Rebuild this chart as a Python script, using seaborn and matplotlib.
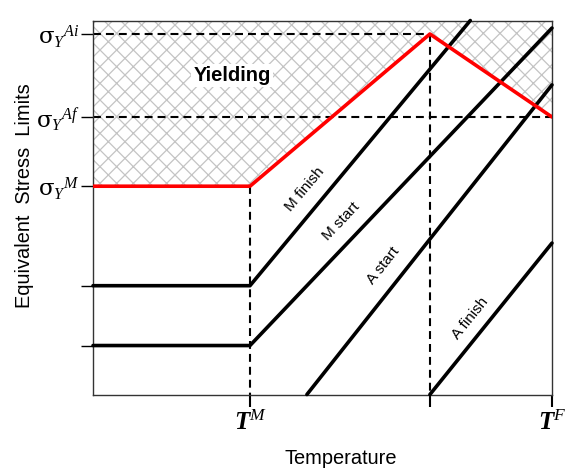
import numpy as np
import pandas as pd
import matplotlib
matplotlib.use("Agg")
import matplotlib.pyplot as plt
import seaborn as sns

# ---- data (axis units: x 0..10, y 0..10) ----
x_TM, x_mid, x_TF = 3.42, 7.34, 10.0
y_Ai, y_Af, y_M, y_low1, y_low2 = 9.64, 7.42, 5.57, 2.91, 1.31

red_x = [0.0, x_TM, x_mid, x_TF]
red_y = [y_M, y_M, y_Ai, y_Af]

mfinish_x = [0.0, x_TM, 8.22]
mfinish_y = [y_low1, y_low1, 10.0]
mstart_x = [0.0, x_TM, x_TF]
mstart_y = [y_low2, y_low2, 9.80]
astart_x = [4.66, x_TF]
astart_y = [0.0, 8.28]
afinish_x = [x_mid, x_TF]
afinish_y = [0.0, 4.05]

ytick_vals = [y_Ai, y_Af, y_M, y_low1, y_low2]
ytick_labels = [r"$\mathrm{\sigma}_{Y}{}^{Ai}$", r"$\mathrm{\sigma}_{Y}{}^{Af}$",
                r"$\mathrm{\sigma}_{Y}{}^{M}$", "", ""]
xtick_vals = [x_TM, x_mid, x_TF]
xtick_labels = [r"$\mathbf{T}^{M}$", "", r"$\mathbf{T}^{F}$"]

line_labels = ["M finish", "M start", "A start", "A finish"]
label_pos = [(4.62, 5.49, 50), (5.40, 4.64, 46.4), (6.32, 3.44, 51.6), (8.21, 2.05, 51.2)]

# ---- style ----
sns.set_theme(style="white")
plt.rcParams["font.family"] = ["Liberation Sans", "DejaVu Sans"]
plt.rcParams["mathtext.fontset"] = "custom"
plt.rcParams["mathtext.rm"] = "DejaVu Serif"
plt.rcParams["mathtext.it"] = "Liberation Serif:italic"
plt.rcParams["mathtext.bf"] = "Liberation Serif:italic:bold"
plt.rcParams["hatch.linewidth"] = 0.9
plt.rcParams["hatch.color"] = "#c4c4c4"
for k in ["text.color", "axes.labelcolor", "xtick.color", "ytick.color"]:
    plt.rcParams[k] = "black"

fig = plt.figure(figsize=(5.78, 4.69), dpi=100)
ax = fig.add_axes([0.1609, 0.1588, 0.7941, 0.7974])
ax.set_xlim(0, 10)
ax.set_ylim(0, 10)

# hatched yielding region
ax.fill_between(red_x, red_y, 10, facecolor="none", edgecolor="#c4c4c4",
                hatch="xx", linewidth=0, zorder=1)

# dashed guides
dash = (0, (3.8, 2.4))
ax.plot([0, x_mid], [y_Ai, y_Ai], color="black", lw=1.5, ls=dash, zorder=2)
ax.plot([0, x_TF], [y_Af, y_Af], color="black", lw=1.5, ls=dash, zorder=2)
ax.plot([x_TM, x_TM], [y_M, 0], color="black", lw=1.5, ls=dash, zorder=2)
ax.plot([x_mid, x_mid], [y_Ai, 0], color="black", lw=1.5, ls=dash, zorder=2)

# black transformation lines
for xs, ys in [(mfinish_x, mfinish_y), (mstart_x, mstart_y),
               (astart_x, astart_y), (afinish_x, afinish_y)]:
    df = pd.DataFrame({"x": xs, "y": ys})
    sns.lineplot(data=df, x="x", y="y", sort=False, estimator=None,
                 color="black", lw=2.6, ax=ax, zorder=3, clip_on=False)

# red yield limit
df_red = pd.DataFrame({"x": red_x, "y": red_y})
sns.lineplot(data=df_red, x="x", y="y", sort=False, estimator=None,
             color="#ff0000", lw=2.6, ax=ax, zorder=4)

# labels along lines
for txt, (lx, ly, rot) in zip(line_labels, label_pos):
    ax.text(lx, ly, txt, rotation=rot, rotation_mode="anchor", ha="center",
            va="center", fontsize=11, color="black", zorder=5)

ax.text(3.03, 8.54, "Yielding", fontsize=14.5, fontweight="bold", ha="center",
        va="center", zorder=5, color="black",
        bbox=dict(facecolor="white", edgecolor="none", pad=1.5))

# ticks
ax.set_yticks(ytick_vals)
ax.set_yticklabels(ytick_labels, fontsize=16.5)
ax.set_xticks(xtick_vals)
ax.set_xticklabels(xtick_labels, fontsize=18)
ax.tick_params(axis="y", direction="out", length=8.6, width=1.0, color="black",
               pad=1, left=True)
ax.tick_params(axis="x", direction="out", length=8.6, width=1.5, color="black",
               pad=3, bottom=True)

for s in ax.spines.values():
    s.set_color("#333333")
    s.set_linewidth(1.0)
    s.set_visible(True)

ax.set_xlabel("Temperature", fontsize=14.4)
ax.set_ylabel("Equivalent  Stress  Limits", fontsize=14.4)
ax.yaxis.set_label_coords(-0.128, 0.533)
ax.xaxis.set_label_coords(0.54, -0.145)

fig.savefig("out.png", dpi=100)
